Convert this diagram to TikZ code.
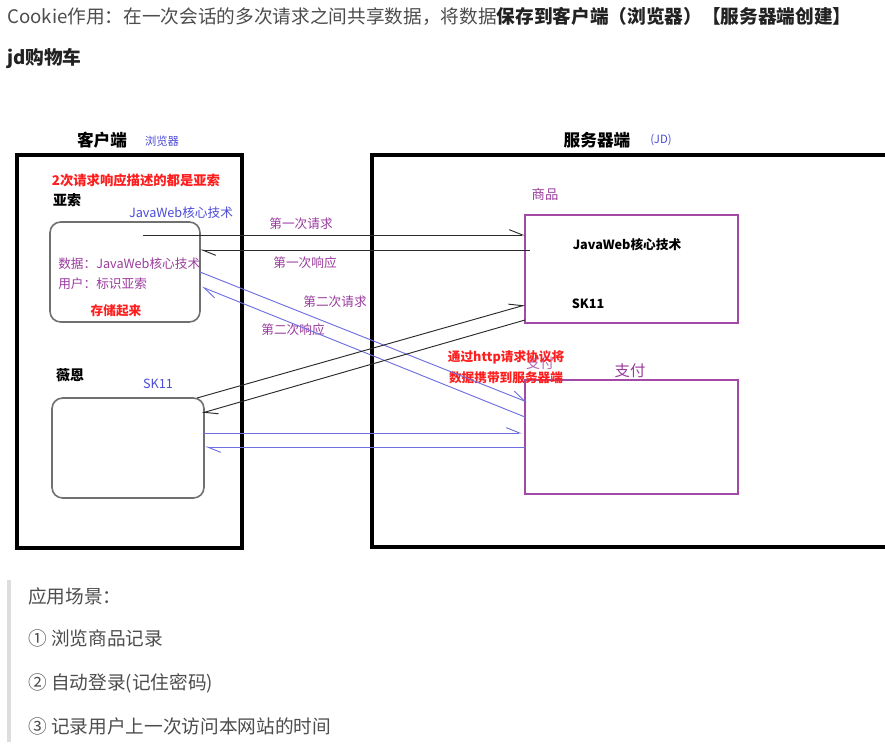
\documentclass[tikz,border=0pt]{standalone}
\usepackage{fontspec}
\setmainfont{Noto Sans CJK SC}
\usetikzlibrary{arrows.meta}
\definecolor{bodygray}{HTML}{4D4D4D}
\definecolor{darkbody}{HTML}{222222}
\definecolor{barg}{HTML}{DDDDDD}
\definecolor{pur}{HTML}{9A3C9E}
\definecolor{purbox}{HTML}{A24AA6}
\definecolor{blu}{HTML}{4B4BD8}
\definecolor{blul}{HTML}{6F6FE2}
\definecolor{redt}{HTML}{FF1E1E}
\definecolor{roundg}{HTML}{707070}
\definecolor{linek}{HTML}{2A2A2A}
\begin{document}
\begin{tikzpicture}[x=0.75pt,y=-0.75pt,
  body/.style={anchor=west,inner sep=0pt,font=\fontsize{14}{16}\selectfont,text=bodygray},
  lbl/.style={inner sep=0pt,font=\fontsize{9.5}{11}\selectfont},
  title/.style={inner sep=0pt,font=\fontsize{12.5}{14}\selectfont\bfseries,text=black},
  bigbox/.style={draw=black,line width=3pt},
  rbox/.style={draw=roundg,line width=1.2pt,rounded corners=8pt},
  pbox/.style={draw=purbox,line width=1.6pt},
  barb/.style={-{Straight Barb[harpoon,length=10pt,width=8pt]}},
  kline/.style={draw=linek,line width=0.7pt,barb},
  bline/.style={draw=blul,line width=0.7pt,barb}]
\useasboundingbox[fill=white] (0,0) rectangle (885,751);

% header text
\node[body] (head) at (7,16) {Cookie作用：在一次会话的多次请求之间共享数据，将数据{\bfseries\color{darkbody}保存到客户端（浏览器）【服务器端创建】}};
\node[body,text=darkbody,font=\fontsize{14}{16}\selectfont\bfseries] (jd) at (7,58) {jd购物车};

% titles
\node[title] (cltitle) at (102,140) {客户端};
\node[lbl,text=blu,font=\fontsize{8.5}{10}\selectfont] (brw) at (162,141) {浏览器};
\node[title] (svtitle) at (597,140) {服务器端};
\node[lbl,text=blu,font=\fontsize{8.5}{10}\selectfont] (jdl) at (661,140) {(JD)};

% big boxes
\draw[bigbox] (17,155) rectangle (242,548);
\draw[bigbox] (890,155) -- (372,155) -- (372,547) -- (890,547);

% client side
\node[lbl,text=redt,font=\fontsize{10}{12}\selectfont\bfseries] (note) at (136,180) {2次请求响应描述的都是亚索};
\node[lbl,text=black,font=\fontsize{10.5}{12}\selectfont\bfseries] (yasuo) at (67,200) {亚索};
\node[lbl,text=blu] (jw1) at (181,213) {JavaWeb核心技术};
\draw[rbox] (50,222) rectangle (200,322);
\node[lbl,text=pur,anchor=west] (data) at (58,264) {数据：JavaWeb核心技术};
\node[lbl,text=pur,anchor=west] (user) at (58,284) {用户：标识亚索};
\node[lbl,text=redt,font=\fontsize{9.5}{11}\selectfont\bfseries] (store) at (116,311) {存储起来};
\node[lbl,text=black,font=\fontsize{10.5}{12}\selectfont\bfseries] (vn) at (70,375) {薇恩};
\node[lbl,text=blu] (sk1) at (158,384) {SK11};
\draw[rbox] (52,398) rectangle (204,498);

% server side
\node[lbl,text=pur,font=\fontsize{10}{12}\selectfont] (goods) at (545,194) {商品};
\draw[pbox] (525,215) rectangle (738,323);
\node[lbl,text=black,font=\fontsize{9.5}{11}\selectfont\bfseries] (jw2) at (627,245) {JavaWeb核心技术};
\node[lbl,text=black,font=\fontsize{9.5}{11}\selectfont\bfseries] (sk2) at (588,304) {SK11};
\node[lbl,text=pur,font=\fontsize{11.5}{13}\selectfont] (pay) at (630,371) {支付};
\node[lbl,text=pur!80,font=\fontsize{10.5}{12}\selectfont] (payg) at (540,363) {支付};
\draw[pbox] (525,380) rectangle (738,494);
\node[lbl,text=redt,font=\fontsize{9.5}{11}\selectfont\bfseries] (http1) at (506,357) {通过http请求协议将};
\node[lbl,text=redt,font=\fontsize{9.5}{11}\selectfont\bfseries] (http2) at (506,378) {数据携带到服务器端};

% connector labels
\node[lbl,text=pur] (l1) at (301,224) {第一次请求};
\node[lbl,text=pur] (l2) at (305,263) {第一次响应};
\node[lbl,text=pur] (l3) at (335,302) {第二次请求};
\node[lbl,text=pur] (l4) at (293,330) {第二次响应};

% connector end points
\coordinate (r1s) at (143,235); \coordinate (r1e) at (525,235);
\coordinate (a1s) at (530,250); \coordinate (a1e) at (200,250);
\coordinate (b1s) at (200,272); \coordinate (b1e) at (527,402);
\coordinate (b2s) at (525,417); \coordinate (b2e) at (202,287);
\coordinate (k3s) at (197,398); \coordinate (k3e) at (525,305);
\coordinate (k4s) at (525,320); \coordinate (k4e) at (202,413);
\coordinate (b5s) at (204,433); \coordinate (b5e) at (522,433);
\coordinate (b6s) at (525,447); \coordinate (b6e) at (205,447);

\draw[kline] (r1s) -- (r1e);
\draw[kline] (a1s) -- (a1e);
\draw[bline] (b1s) -- (b1e);
\draw[bline] (b2s) -- (b2e);
\draw[kline] (k3s) -- (k3e);
\draw[kline] (k4s) -- (k4e);
\draw[bline] (b5s) -- (b5e);
\draw[bline] (b6s) -- (b6e);

% bottom quote
\draw[draw=barg,line width=2.5pt] (9,580) -- (9,742);
\node[body] (scene) at (28,596) {应用场景：};
\node[body] (s1) at (28,638) {① 浏览商品记录};
\node[body] (s2) at (28,683) {② 自动登录(记住密码)};
\node[body] (s3) at (28,726) {③ 记录用户上一次访问本网站的时间};
\end{tikzpicture}
\end{document}
